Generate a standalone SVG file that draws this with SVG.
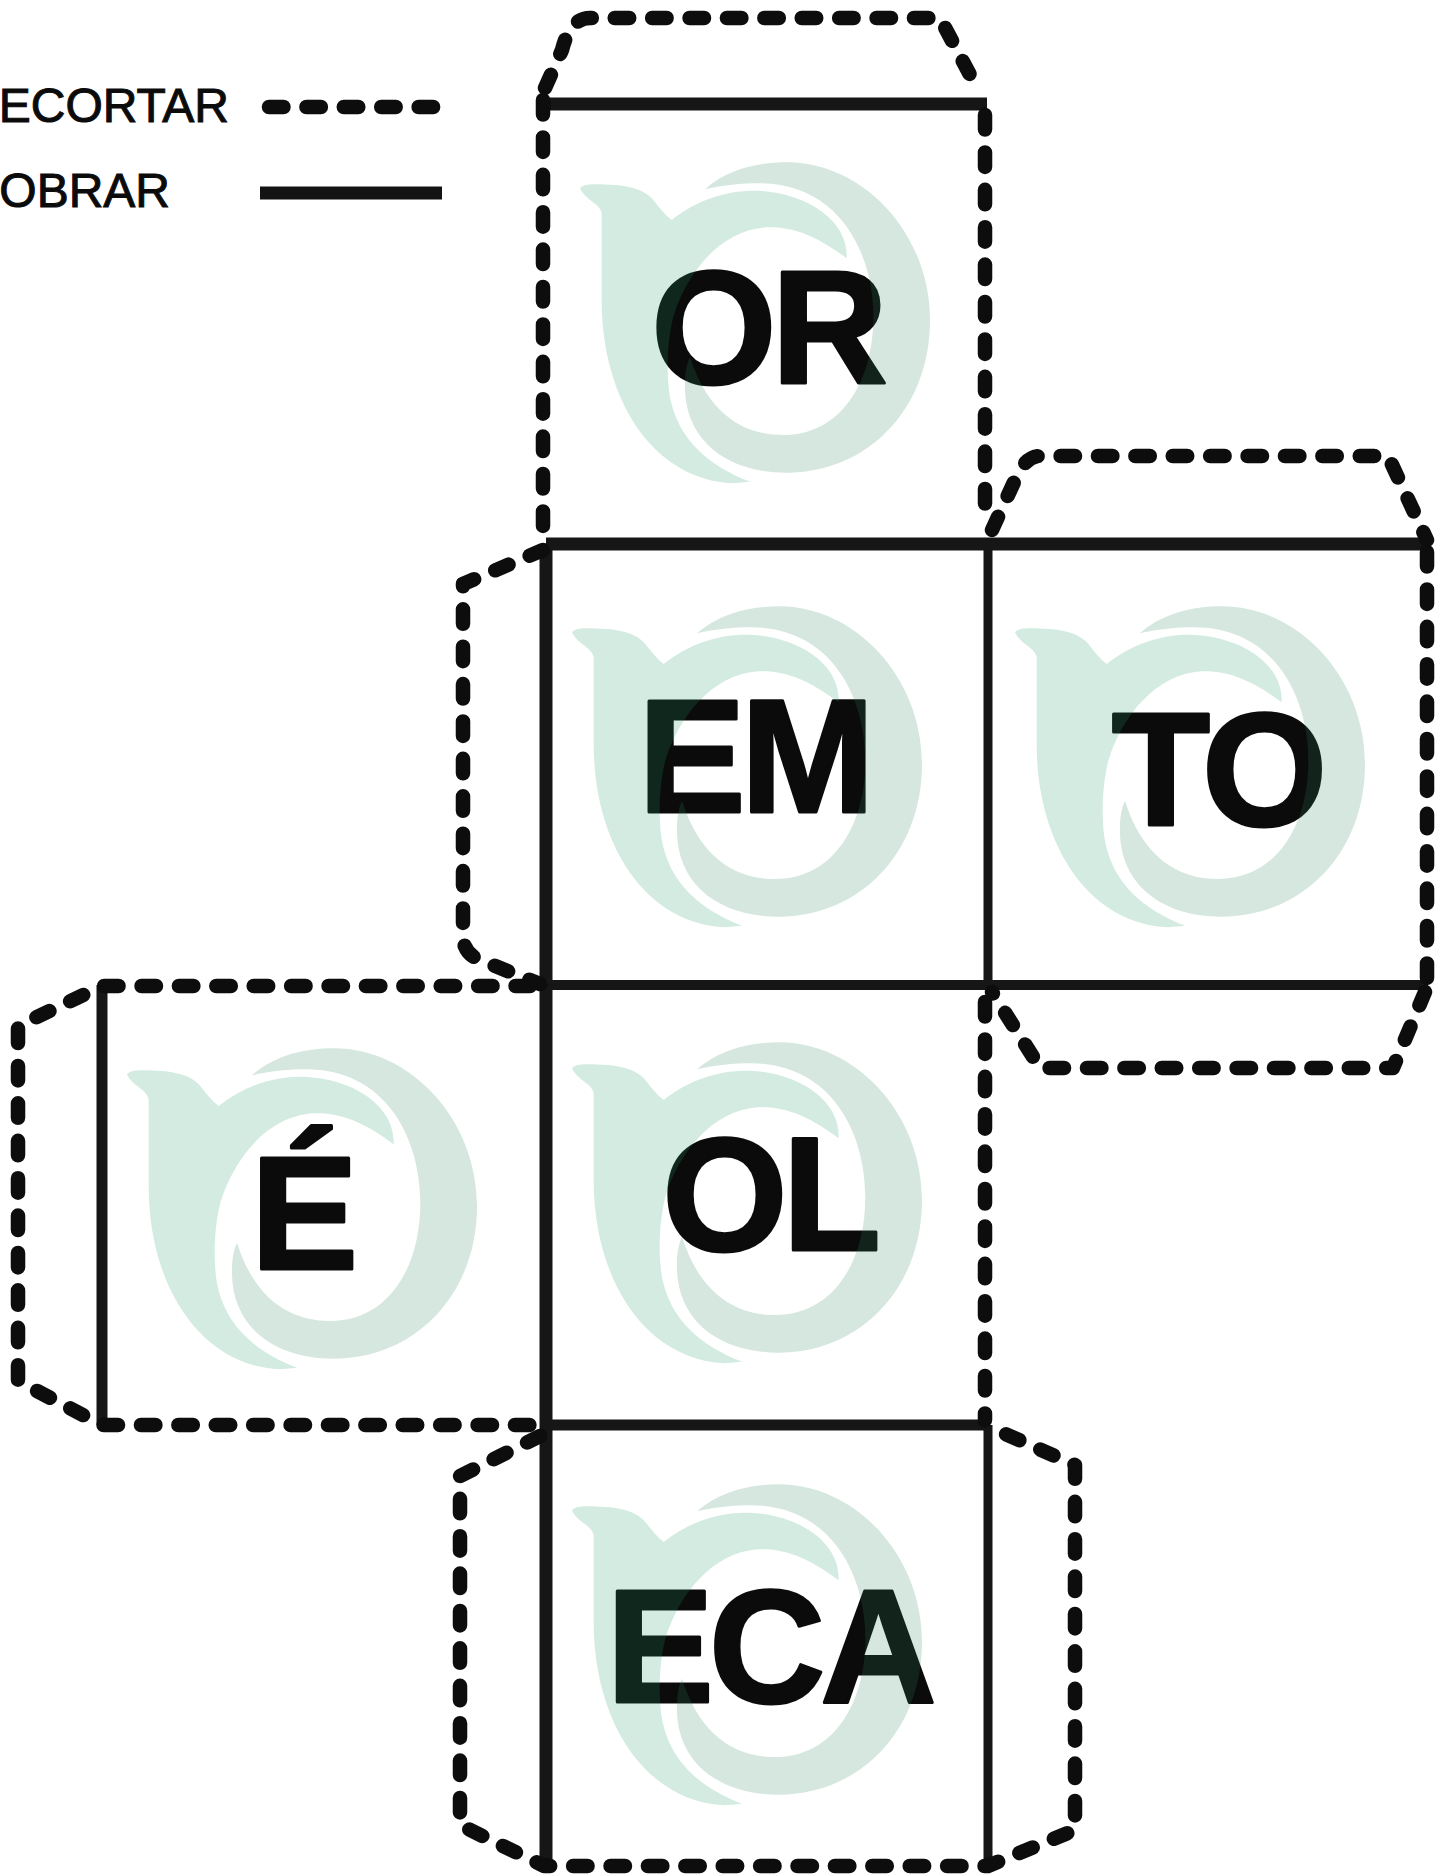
<svg xmlns="http://www.w3.org/2000/svg" xmlns:xlink="http://www.w3.org/1999/xlink" width="1449" height="1874" viewBox="0 0 1449 1874">
<style>
.cut{fill:none;stroke:#0f0f0f;stroke-width:14.5;stroke-linecap:round;stroke-linejoin:round;stroke-dasharray:14.5 22.9}
.fold{fill:none;stroke:#131313;stroke-linecap:butt}
.word{font-family:"Liberation Sans",Arial,sans-serif;font-weight:700;font-size:161px;letter-spacing:-5px;fill:#0b0b0b;stroke:#0b0b0b;stroke-width:3;stroke-linejoin:round;text-anchor:middle}
.legend{font-family:"Liberation Sans",Arial,sans-serif;font-size:48px;fill:#0b0b0b;stroke:#0b0b0b;stroke-width:1;text-anchor:end}
</style>
<defs>
<filter id="soft" filterUnits="userSpaceOnUse" x="0" y="0" width="1449" height="1874"><feGaussianBlur stdDeviation=".7"/></filter>
<g id="logo" transform="translate(520 0) scale(.33333)">
<path fill="#239b64" fill-opacity=".2" d="M180 565C190 552 215 552 240 553C320 555 370 565 400 600C420 625 435 645 455 660C530 600 620 570 710 572C860 578 985 660 980 775C880 700 810 680 740 682C600 690 500 820 460 950C440 1030 440 1120 448 1180C470 1320 570 1400 690 1445L640 1450C400 1440 245 1200 245 900L245 640C240 610 195 600 180 565Z"/>
<path fill="#2d875a" fill-opacity=".2" d="M555 568C620 510 710 487 800 487C1030 487 1230 700 1230 960C1230 1230 1040 1418 800 1418C620 1418 490 1320 495 1150C495 1120 500 1090 510 1070C560 1230 660 1305 790 1305C960 1305 1060 1150 1060 950C1060 750 950 540 700 550C640 552 590 560 555 568Z"/>
</g>
</defs>
<rect width="1449" height="1874" fill="#fff"/>
<g id="legend">
<text class="legend" x="229" y="122">RECORTAR</text>
<text class="legend" x="170" y="207">DOBRAR</text>
<path class="cut" filter="url(#soft)" d="M269 107H436"/>
<path class="fold" stroke-width="13" d="M260 193H442"/>
</g>
<g id="face-or"><text class="word" x="767" y="383">OR</text><use xlink:href="#logo" href="#logo"/></g>
<g id="face-em"><text class="word" x="754" y="812">EM</text><use href="#logo" transform="translate(-8 444)"/></g>
<g id="face-to"><text class="word" x="1217" y="825">TO</text><use href="#logo" transform="translate(435 444)"/></g>
<g id="face-e"><text class="word" x="302" y="1269">É</text><use href="#logo" transform="translate(-453 886)"/></g>
<g id="face-ol"><text class="word" x="769" y="1250">OL</text><use href="#logo" transform="translate(-8 880)"/></g>
<g id="face-eca"><text class="word" x="769" y="1702">ECA</text><use href="#logo" transform="translate(-8 1322)"/></g>
<g id="connectors" filter="url(#soft)">
<path class="fold" stroke-width="13" d="M545 104H987"/>
<path class="fold" stroke-width="13" d="M546 544H1428"/>
<path class="fold" stroke-width="13" d="M546 544V1866"/>
<path class="fold" stroke-width="9" d="M988 544V984"/>
<path class="fold" stroke-width="10" d="M546 985H1428"/>
<path class="fold" stroke-width="11" d="M546 1425H988"/>
<path class="fold" stroke-width="11" d="M102 985V1425"/>
<path class="fold" stroke-width="9" d="M988 1425V1866"/>
<path class="cut" d="M545 88L562 50Q570 18 590 18H940L978 90"/>
<path class="cut" d="M543 100V538"/>
<path class="cut" d="M985 115V520"/>
<path class="cut" d="M992 530L1015 480Q1025 456 1040 456H1388L1427 540"/>
<path class="cut" d="M1427 552V985"/>
<path class="cut" d="M1425 992L1393 1068H1040L992 992"/>
<path class="cut" d="M543 550L463 584V940Q466 955 480 960L540 984"/>
<path class="cut" d="M530 986H102L18 1026V1381L102 1425H530"/>
<path class="cut" d="M985 1002V1420"/>
<path class="cut" d="M540 1436L460 1476V1825L544 1866H988L1075 1830V1465L992 1428"/>
</g>
</svg>
